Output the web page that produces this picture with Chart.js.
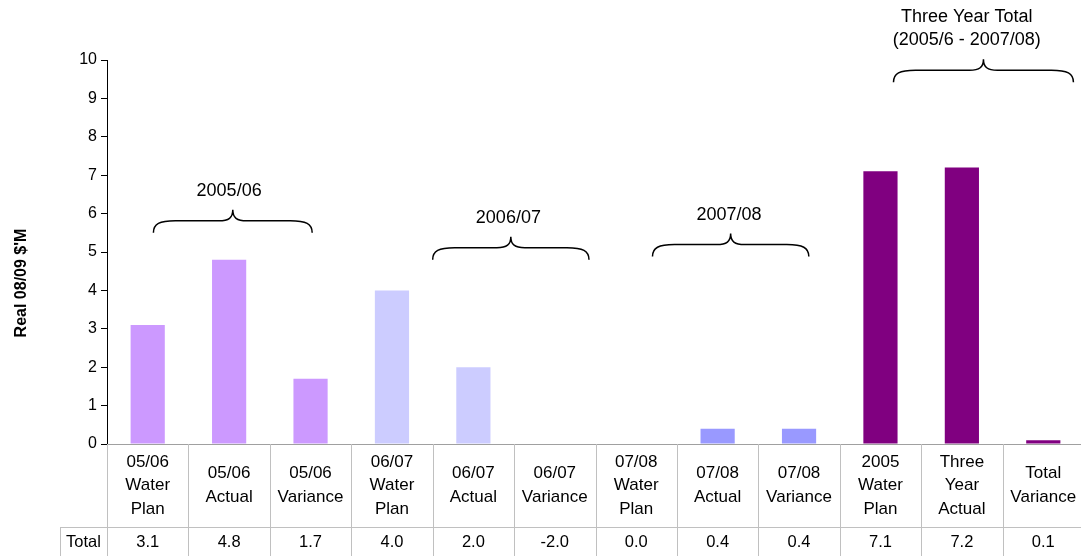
<!DOCTYPE html>
<html>
<head>
<meta charset="utf-8">
<title>Real 08/09 $'M</title>
<script src="https://cdn.jsdelivr.net/npm/chart.js@4/dist/chart.umd.min.js"></script>
<style>
  html, body { margin: 0; padding: 0; background: #ffffff; overflow: hidden; }
  canvas { display: block; }
</style>
</head>
<body>
<canvas id="c" width="1084" height="556"></canvas>
<script>
// Category labels (one array of lines per column)
const categories = [
  ['05/06', 'Water', 'Plan'],
  ['05/06', 'Actual'],
  ['05/06', 'Variance'],
  ['06/07', 'Water', 'Plan'],
  ['06/07', 'Actual'],
  ['06/07', 'Variance'],
  ['07/08', 'Water', 'Plan'],
  ['07/08', 'Actual'],
  ['07/08', 'Variance'],
  ['2005', 'Water', 'Plan'],
  ['Three', 'Year', 'Actual'],
  ['Total', 'Variance']
];

// Real 08/09 $'M
const totals = [3.1, 4.8, 1.7, 4.0, 2.0, -2.0, 0.0, 0.4, 0.4, 7.1, 7.2, 0.1];

const barColors = [
  '#cc99ff', '#cc99ff', '#cc99ff',
  '#ccccff', '#ccccff', '#ccccff',
  '#9999ff', '#9999ff', '#9999ff',
  '#800080', '#800080', '#800080'
];

const yTicks = [0, 1, 2, 3, 4, 5, 6, 7, 8, 9, 10];
const rowLabel = 'Total';
const yTitle = "Real 08/09 $'M";

// Period brackets: category span (index units), label centre, and the value the bracket feet sit on
const braceLabels = [['2005/06'], ['2006/07'], ['2007/08'], ['Three Year Total', '(2005/6 - 2007/08)']];
const braceFrom = [0.07, 3.50, 6.20, 9.16];
const braceTo = [2.02, 5.42, 8.12, 11.37];
const braceLabelAt = [1.0, 4.43, 7.14, 10.06];
const braceFeet = [5.50, 4.80, 4.88, 9.42];

const FONT = "'Liberation Sans', Arial, Helvetica, sans-serif";
const GRID = '#c0c0c0';

const tablePlugin = {
  id: 'dataTable',
  afterDraw(chart) {
    const ctx = chart.ctx;
    const x = chart.scales.x;
    const area = chart.chartArea;
    const top = area.bottom;
    const rowTop = top + 83;
    const bottom = chart.height;
    const left0 = 60;

    ctx.save();
    ctx.strokeStyle = GRID;
    ctx.lineWidth = 1;
    ctx.beginPath();
    // vertical column borders
    for (let i = 0; i <= categories.length; i++) {
      const px = Math.round(x.getPixelForValue(i - 0.5)) + 0.5;
      ctx.moveTo(px, top);
      ctx.lineTo(px, bottom);
    }
    // row label cell
    ctx.moveTo(left0 + 0.5, rowTop);
    ctx.lineTo(left0 + 0.5, bottom);
    ctx.moveTo(left0, Math.round(rowTop) + 0.5);
    ctx.lineTo(chart.width, Math.round(rowTop) + 0.5);
    ctx.stroke();

    ctx.fillStyle = '#000000';
    ctx.textAlign = 'center';
    ctx.textBaseline = 'middle';
    const lh = 23.5;
    const midHeader = (top + rowTop) / 2;
    categories.forEach((lines, i) => {
      const cx = x.getPixelForValue(i);
      const y0 = midHeader - (lines.length - 1) * lh / 2;
      ctx.font = '17px ' + FONT;
      lines.forEach((t, k) => ctx.fillText(t, cx, y0 + k * lh));
      ctx.font = '16.5px ' + FONT;
      ctx.fillText(totals[i].toFixed(1), cx, (rowTop + bottom) / 2 + 1);
    });
    ctx.fillText(rowLabel, (left0 + x.getPixelForValue(-0.5)) / 2, (rowTop + bottom) / 2 + 1);

    // value axis title
    ctx.save();
    ctx.translate(22, 283);
    ctx.rotate(-Math.PI / 2);
    ctx.font = 'bold 16px ' + FONT;
    ctx.fillText(yTitle, 0, 0);
    ctx.restore();
    ctx.restore();
  }
};

const bracePlugin = {
  id: 'braces',
  afterDatasetsDraw(chart) {
    const ctx = chart.ctx;
    const x = chart.scales.x;
    const y = chart.scales.y;
    ctx.save();
    ctx.strokeStyle = '#000000';
    ctx.lineWidth = 1.5;
    ctx.fillStyle = '#000000';
    ctx.font = '18px ' + FONT;
    ctx.textAlign = 'center';
    ctx.textBaseline = 'middle';
    braceLabels.forEach((lines, i) => {
      const x0 = x.getPixelForValue(braceFrom[i]);
      const x1 = x.getPixelForValue(braceTo[i]);
      const yEnd = y.getPixelForValue(braceFeet[i]);
      const yH = yEnd - 12;
      const yA = yH - 11;
      const xm = (x0 + x1) / 2;
      ctx.beginPath();
      ctx.moveTo(x0, yEnd);
      ctx.bezierCurveTo(x0, yH + 3, x0 + 6, yH, x0 + 22, yH);
      ctx.lineTo(xm - 14, yH);
      ctx.bezierCurveTo(xm - 4, yH, xm, yH - 3, xm, yA);
      ctx.bezierCurveTo(xm, yH - 3, xm + 4, yH, xm + 14, yH);
      ctx.lineTo(x1 - 22, yH);
      ctx.bezierCurveTo(x1 - 6, yH, x1, yH + 3, x1, yEnd);
      ctx.stroke();
      const lh = 23.5;
      const yLast = yA - 19;
      const lx = x.getPixelForValue(braceLabelAt[i]);
      lines.forEach((t, k) => {
        ctx.fillText(t, lx, yLast - (lines.length - 1 - k) * lh);
      });
    });
    ctx.restore();
  }
};

new Chart(document.getElementById('c'), {
  type: 'bar',
  data: {
    labels: categories.map(l => l.join(' ')),
    datasets: [{
      data: totals,
      backgroundColor: barColors,
      borderWidth: 0,
      barPercentage: 0.42,
      categoryPercentage: 1.0
    }]
  },
  options: {
    responsive: false,
    animation: false,
    devicePixelRatio: 1,
    layout: { padding: { top: 60, right: 0, bottom: 0, left: 0 } },
    plugins: {
      legend: { display: false },
      tooltip: { enabled: false }
    },
    scales: {
      x: {
        ticks: { display: false },
        grid: { display: false },
        border: { display: true, color: '#a0a0a0', width: 1 },
        afterFit(scale) { scale.height = 112; }
      },
      y: {
        min: 0,
        max: 10,
        afterBuildTicks(scale) { scale.ticks = yTicks.map(v => ({ value: v })); },
        ticks: {
          font: { family: FONT, size: 16 },
          color: '#000000',
          padding: 4
        },
        grid: {
          drawOnChartArea: false,
          drawTicks: true,
          tickLength: 6,
          color: '#000000'
        },
        border: { display: true, color: '#000000', width: 1 },
        afterFit(scale) { scale.width = 107; }
      }
    }
  },
  plugins: [tablePlugin, bracePlugin]
});
</script>
</body>
</html>
